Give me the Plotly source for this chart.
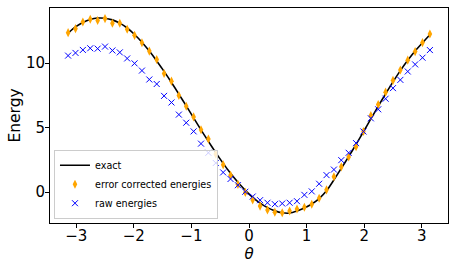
import numpy as np
import plotly.graph_objects as go

# theta grid: 50 equally spaced angles from -pi to pi
theta = np.linspace(-np.pi, np.pi, 50)

exact = [12.32, 12.80, 13.15, 13.38, 13.49, 13.48, 13.35, 13.10, 12.72, 12.22,
         11.62, 10.93, 10.17, 9.36, 8.50, 7.60, 6.68, 5.75, 4.83, 3.93,
         3.06, 2.23, 1.46, 0.76, 0.14, -0.40, -0.85, -1.20, -1.45, -1.60,
         -1.62, -1.46, -1.23, -0.92, -0.50, 0.10, 0.95, 1.85, 2.75, 3.70,
         4.68, 5.68, 6.66, 7.62, 8.55, 9.42, 10.22, 10.94, 11.58, 12.20]

corrected = [12.36, 12.67, 13.19, 13.40, 13.30, 13.45, 13.09, 13.09, 12.62, 12.15,
             11.58, 10.93, 10.28, 9.19, 8.60, 7.49, 6.66, 5.83, 4.84, 4.12,
             2.95, 2.12, 1.31, 0.60, -0.02, -0.60, -1.08, -1.38, -1.55, -1.60,
             -1.46, -1.30, -1.17, -0.94, -0.47, 0.18, 1.19, 1.96, 2.72, 3.52,
             4.70, 5.93, 6.79, 7.75, 8.66, 9.46, 10.23, 10.89, 11.59, 12.25]

raw = [10.58, 10.79, 11.02, 11.15, 11.12, 11.28, 10.98, 10.83, 10.36, 9.98,
       9.42, 8.73, 8.38, 7.46, 6.95, 6.01, 5.38, 4.71, 3.76, 3.05,
       2.26, 1.53, 1.02, 0.54, 0.03, -0.34, -0.62, -0.82, -0.93, -0.88,
       -0.82, -0.70, -0.21, 0.06, 0.65, 1.32, 1.75, 2.48, 3.05, 3.80,
       4.70, 5.72, 6.42, 7.24, 8.06, 8.70, 9.35, 9.90, 10.42, 11.01]

x_ticks = [-3, -2, -1, 0, 1, 2, 3]
y_ticks = [0, 5, 10]

FONT = "DejaVu Sans"

fig = go.Figure()
fig.add_trace(go.Scatter(
    x=theta, y=exact, mode="lines", name="exact",
    line=dict(color="black", width=1.6, shape="spline", smoothing=0.6),
))
fig.add_trace(go.Scatter(
    x=theta, y=corrected, mode="markers", name="error corrected energies",
    marker=dict(symbol="diamond-tall", size=6.5, color="#FFA500",
                line=dict(width=0)),
))
fig.add_trace(go.Scatter(
    x=theta, y=raw, mode="markers", name="raw energies",
    marker=dict(symbol="x-thin", size=6, color="#0000FF",
                line=dict(width=1, color="#0000FF")),
))

axis_common = dict(
    showgrid=False, zeroline=False, showline=True, mirror=True,
    linecolor="black", linewidth=1, ticks="outside", ticklen=4,
    tickwidth=1, tickcolor="black",
    tickfont=dict(family=FONT, size=15, color="black"),
)

fig.update_layout(
    width=457, height=269,
    margin=dict(l=50, r=9, t=8, b=46),
    plot_bgcolor="white", paper_bgcolor="white",
    font=dict(family=FONT, color="black"),
    xaxis=dict(range=[-3.456, 3.456], tickvals=x_ticks, ticklabelstandoff=-5,
               title=dict(text="<i>θ</i>", font=dict(family=FONT, size=15),
                          standoff=0),
               **axis_common),
    yaxis=dict(range=[-2.39, 14.27], tickvals=y_ticks, ticklabelstandoff=-3,
               title=dict(text="Energy", font=dict(family=FONT, size=15.5),
                          standoff=1),
               **axis_common),
    legend=dict(
        x=0.01, y=0.02, xanchor="left", yanchor="bottom",
        bgcolor="rgba(255,255,255,0.8)", bordercolor="#cccccc", borderwidth=1,
        font=dict(family=FONT, size=9.6, color="black"),
    ),
    showlegend=True,
)

fig.write_html(
    "out.html",
    config={"displayModeBar": False},
    post_script="document.body.style.margin='0';document.body.style.overflow='hidden';",
)
